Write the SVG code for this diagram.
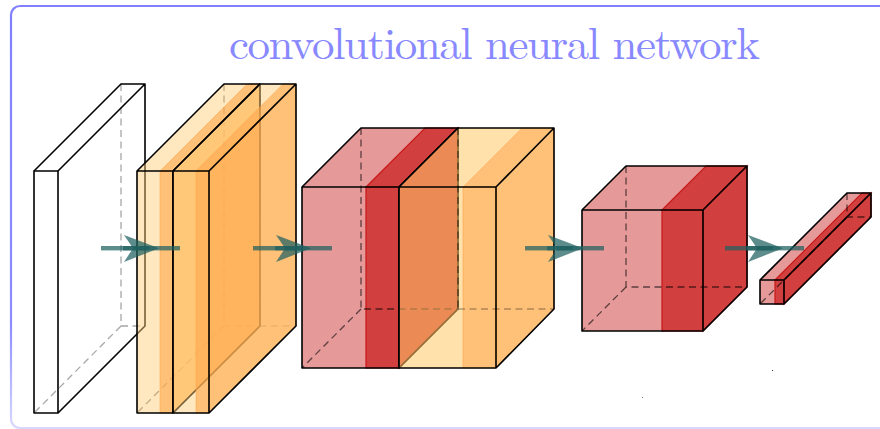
<svg xmlns="http://www.w3.org/2000/svg" width="880" height="429" viewBox="0 0 880 429">
<style>
.o{fill:none;stroke:#000;stroke-width:1.6;stroke-linejoin:round}
.d{fill:none;stroke:#000;stroke-width:1.3;stroke-dasharray:7 4.5}
.ol{fill:#ffce79;fill-opacity:.47}
.od{fill:#ffb056;fill-opacity:.8;stroke:#ffa040;stroke-opacity:.5;stroke-width:1}
.l3{fill:#ffc866;fill-opacity:.55}
.rl{fill:#e69999}
.rd{fill:#d23f3f;stroke:#c81818;stroke-width:1.2}
.title{font-family:"Latin Modern Roman","Liberation Serif",serif;font-size:45px;fill:#8888ff}
</style>
<defs>
<linearGradient id="fr" gradientUnits="userSpaceOnUse" x1="0" y1="6" x2="0" y2="428"><stop offset="0" stop-color="#8080ff"/><stop offset=".75" stop-color="#8c8cff"/><stop offset="1" stop-color="#d8d8ff"/></linearGradient>
<g id="arr" fill="#1f5f5f" fill-opacity=".72">
<rect x="0" y="246" width="79" height="4.4"/>
<rect x="22" y="246" width="26" height="4.4"/>
<path d="M23 235 L58 248.2 L23 262 L32 248.2Z"/>
</g>
</defs>
<rect id="frame" x="11" y="6" width="900" height="422" rx="9" fill="none" stroke="url(#fr)" stroke-width="2.2"/>
<g id="title"><text class="title" x="229" y="59" textLength="531" lengthAdjust="spacing">convolutional neural network</text></g>
<g id="input">
<path class="o" d="M34 171L121 84H145V326L58 413M58 171L145 84"/>
<rect class="o" x="34" y="171" width="24" height="242"/>
<path class="d" opacity=".35" d="M121 84V326M121 326H145M121 326L34 413"/>
</g>
<g id="conv1">
<path class="d" opacity=".45" d="M224 84V326H260M224 326L137 413"/>
<path class="ol" d="M137 171H160V413H137Z"/>
<path class="ol" d="M137 171L224 84H247L160 171Z"/>
<path class="od" d="M160 171H173V413H160Z"/>
<path class="od" d="M160 171L247 84H260L173 171Z"/>
<path class="od" d="M173 171L260 84V326L173 413Z" stroke="none"/>
<path class="o" d="M137 171H173V413H137ZM137 171L224 84H260L173 171M260 84V326L173 413"/>
</g>
<g id="conv2">
<path class="d" opacity=".3" d="M260 84V326H296M260 326L173 413"/>
<path class="ol" d="M173 171H196V413H173Z"/>
<path class="ol" d="M173 171L260 84H283L196 171Z"/>
<path class="od" d="M196 171H209V413H196Z"/>
<path class="od" d="M196 171L283 84H296L209 171Z"/>
<path class="od" d="M209 171L296 84V326L209 413Z" stroke="none"/>
<path class="o" d="M173 171H209V413H173ZM173 171L260 84H296L209 171M296 84V326L209 413"/>
</g>
<g id="pool1">
<path class="rl" d="M302 187H366V368H302Z"/>
<path class="rl" d="M302 187L361 128H425L366 187Z"/>
<path class="rd" d="M366 187H399V368H366Z"/>
<path class="rd" d="M366 187L425 128H458L399 187Z"/>
<path class="rd" d="M399 187L458 128V309L399 368Z" stroke="none"/>
<path class="d" opacity=".6" d="M361 128V309H458M361 309L302 368"/>
<path class="o" d="M302 187H399V368H302ZM302 187L361 128H458L399 187M458 128V309L399 368"/>
</g>
<g id="conv3">
<path class="l3" d="M399 187H463V368H399Z"/>
<path class="l3" d="M399 187L458 128H522L463 187Z"/>
<path class="od" d="M463 187H496V368H463Z"/>
<path class="od" d="M463 187L522 128H554L496 187Z"/>
<path class="od" d="M496 187L554 128V309L496 368Z" stroke="none"/>
<path class="d" opacity=".3" d="M458 309H554"/>
<path class="d" opacity=".55" d="M458 128V309"/>
<path class="o" d="M399 187H496V368H399ZM399 187L458 128H554L496 187M554 128V309L496 368"/>
</g>
<g id="pool2">
<path class="rl" d="M582 210H662V331H582Z"/>
<path class="rl" d="M582 210L626 166H706L662 210Z"/>
<path class="rd" d="M662 210H703V331H662Z"/>
<path class="rd" d="M662 210L706 166H747L703 210Z"/>
<path class="rd" d="M703 210L747 166V287L703 331Z" stroke="none"/>
<path class="d" opacity=".6" d="M626 166V287H747M626 287L582 331"/>
<path class="o" d="M582 210H703V331H582ZM582 210L626 166H747L703 210M747 166V287L703 331"/>
</g>
<g id="fc">
<path class="rl" d="M760 280H775V304H760Z"/>
<path class="rl" d="M760 280L847 193H862L775 280Z"/>
<path class="rd" d="M775 280H784V304H775Z"/>
<path class="rd" d="M775 280L862 193H871L784 280Z"/>
<path class="rd" d="M784 280L871 193V217L784 304Z" stroke="none"/>
<path class="d" opacity=".6" d="M847 193V217H871M847 217L760 304"/>
<path class="o" d="M760 280H784V304H760ZM760 280L847 193H871L784 280M871 193V217L784 304"/>
</g>
<g id="connectors">
<use href="#arr" x="101"/>
<use href="#arr" x="253"/>
<use href="#arr" x="525"/>
<use href="#arr" x="725"/>
</g>
<g id="specks" fill="#333">
<rect x="642" y="397" width="1" height="1" opacity=".6"/>
<rect x="772" y="370" width="1" height="1"/>
</g>
</svg>
